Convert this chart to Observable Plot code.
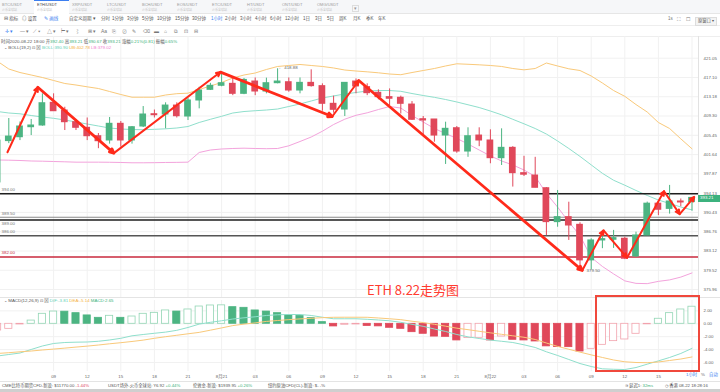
<!DOCTYPE html>
<html><head><meta charset="utf-8">
<script src="https://cdn.jsdelivr.net/npm/d3@7"></script>
<script src="https://cdn.jsdelivr.net/npm/@observablehq/plot@0.6"></script>
<style>
html,body{margin:0;padding:0;background:#fff;}
body{width:720px;height:392px;overflow:hidden;position:relative;font-family:"Liberation Sans","Noto Sans CJK SC",sans-serif;}
.a{position:absolute;white-space:nowrap;line-height:1;}
.wrap{position:absolute;left:0;}
</style></head><body>
<div class="a" style="left:0;top:0;width:720px;height:13px;background:#f6f7f9;border-bottom:1px solid #e6e6e6;"></div>
<div class="a" style="left:34px;top:0;width:35px;height:14px;background:#fff;border-top:1px solid #3d7ff0;box-sizing:border-box;"></div>
<div class="a" style="left:0;top:25px;width:720px;height:0;border-top:1px solid #eee;"></div>
<div class="a" style="left:0;top:36px;width:720px;height:0;border-top:1px solid #eee;"></div>
<div id="main" class="wrap" style="top:36px"></div>
<div id="macd" class="wrap" style="top:297px"></div>
<div class="a" style="left:0;top:297px;width:720px;height:0;border-top:1px solid #e4e4e4;"></div>
<div class="a" style="left:0;top:381px;width:720px;height:0;border-top:1px solid #e4e4e4;"></div>
<div class="a" style="left:0;top:389px;width:720px;height:3px;background:#cfcfcf;"></div>
<script>
// ---------- data ----------
const pairs = ["BTC/USDT","ETH/USDT","XRP/USDT","LTC/USDT","BCH/USDT","EOS/USDT","ETC/USDT","HT/USDT","ONT/USDT","OMG/USDT"];
const periods = ["分时","1分钟","3分钟","5分钟","10分钟","15分钟","30分钟","1小时","2小时","3小时","4小时","6小时","12小时","1日","3日","5日","周K","月K","季K","年K"];
// hourly candles, 2020-08-20 04:00 ... 2020-08-22 18:00 (index -1 .. 61)
const open = [396.2,404.3,405.07,407.06,407.4,411.95,410.4,408.06,406.94,405.27,
  404.42,407.74,404.42,407.2,409.66,409.6,411.4,409.2,412.42,414.58,
  415.4,415.8,413.77,416.27,414.24,415.93,416.13,414.44,416.0,415.33,
  411.75,410.6,416.27,415.13,413.98,413.1,412.97,411.6,408.66,408.6,
  405.4,406.86,402.24,405.4,404.42,400.93,402.97,398.0,397.54,395.08,
  388.57,389.52,388.06,381.36,385.1,385.23,385.42,382.1,386.04,392.1,
  391.1,392.52,392.40];
const high = [404.6,408.8,408.1,408.6,413.77,413.77,411.06,408.6,408.9,405.8,
  409.0,408.2,407.2,411.2,410.5,411.95,411.95,412.9,415.1,415.9,
  418.2,417.0,416.9,417.0,416.96,418.88,417.0,417.0,418.66,415.8,
  413.3,416.0,416.8,415.8,414.58,414.77,413.3,412.2,409.2,408.6,
  408.06,407.2,406.94,406.94,406.54,406.74,403.2,401.3,401.1,395.2,
  394.64,392.38,388.45,385.42,386.99,387.0,385.7,386.66,392.4,392.4,
  395.62,393.0,393.21];
const low = [395.8,403.8,404.4,405.4,407.26,410.2,406.4,406.4,404.4,402.8,
  403.7,403.1,403.7,407.0,408.9,406.74,408.9,408.4,410.74,414.44,
  415.2,413.4,413.6,413.4,413.77,415.8,414.1,413.77,415.13,410.26,
  409.86,409.2,413.77,413.4,412.56,411.4,409.7,408.4,405.4,404.08,
  399.7,401.9,401.1,403.2,399.84,399.5,395.3,397.35,395.16,386.0,
  387.6,385.1,379.5,379.6,383.55,383.6,381.5,381.9,386.0,389.8,
  390.1,391.5,390.67];
const close = [404.4,405.2,407.2,407.4,411.87,410.26,408.06,406.94,405.27,404.28,
  407.74,404.42,407.06,409.6,409.46,411.4,409.26,412.42,414.44,415.4,
  415.93,413.77,416.6,414.24,415.93,416.27,414.44,416.0,415.33,411.75,
  410.54,416.0,415.26,413.9,413.1,412.77,411.75,408.54,408.4,405.4,
  406.74,402.24,405.27,404.42,400.93,402.97,398.0,397.7,395.16,388.57,
  389.52,387.93,381.36,385.1,385.35,385.54,381.67,386.04,392.1,390.93,
  392.52,392.33,393.21];
const ub = [420.4,418.83,418.11,417.6,417.09,416.48,415.87,415.56,415.19,414.85,
  414.24,413.63,413.08,413.08,413.08,413.53,413.8,413.9,414.65,415.36,
  416.07,416.99,417.6,418.01,418.73,419.35,419.55,419.76,419.55,419.35,
  419.04,418.62,418.42,418.25,418.05,417.8,417.66,418.11,418.52,418.93,
  419.45,419.9,419.8,419.69,419.55,419.35,418.93,418.66,418.93,420.06,
  419.45,418.87,418.52,417.4,415.97,414.44,413.26,411.6,410.1,408.0,
  406.8,404.75,402.78];
const boll = [410.2,409.9,409.74,409.4,409.1,408.84,408.5,408.1,407.7,407.3,
  406.9,406.7,406.6,406.56,406.64,406.74,406.9,407.2,408.0,408.64,
  409.24,409.9,410.2,410.36,410.5,410.7,411.21,411.72,412.32,412.93,
  413.34,413.74,414.04,414.34,414.44,414.44,414.28,413.83,413.43,413.06,
  412.62,412.12,411.56,411.0,410.3,409.54,408.64,407.74,406.8,405.7,
  404.32,402.84,401.28,399.62,397.97,396.62,395.66,394.64,393.68,392.8,
  392.13,391.46,390.90];
const lb = [400.58,400.54,400.48,400.38,400.34,400.28,400.22,400.15,400.15,400.15,
  400.13,400.09,400.03,400.03,400.05,400.09,400.11,400.15,402.05,402.54,
  402.74,402.84,402.9,402.84,402.8,402.84,403.37,404.22,405.11,406.26,
  407.6,408.66,409.44,409.94,410.6,411.21,410.9,409.4,408.1,406.8,
  405.8,404.82,403.73,402.54,401.38,400.38,399.6,398.62,397.36,394.06,
  391.44,388.6,386.04,381.92,380.23,378.84,377.55,377.09,377.04,377.46,
  377.73,378.25,379.02];
const dif = [-4.99,-4.76,-4.53,-3.98,-3.44,-3.05,-2.9,-2.85,-2.82,-2.71,
  -2.51,-2.25,-1.86,-1.66,-1.47,-1.29,-1.01,-0.57,-0.05,0.23,
  0.47,0.74,0.93,1.09,1.29,1.4,1.44,1.44,1.29,1.02,
  0.78,0.78,0.78,0.7,0.59,0.47,0.23,-0.08,-0.39,-0.81,
  -1.19,-1.66,-2.02,-2.28,-2.53,-2.71,-2.9,-3.26,-3.67,-4.34,
  -4.91,-5.53,-6.16,-6.62,-6.98,-7.05,-7.09,-6.78,-6.26,-5.75,
  -5.22,-4.6,-3.81];
const dea = [-4.6,-4.48,-4.34,-4.22,-4.06,-3.92,-3.77,-3.61,-3.46,-3.29,
  -3.1,-2.93,-2.74,-2.53,-2.25,-2.0,-1.78,-1.55,-1.33,-0.99,
  -0.64,-0.28,-0.05,0.14,0.37,0.51,0.64,0.76,0.85,0.95,
  1.01,1.02,1.02,1.01,0.9,0.78,0.64,0.4,0.19,-0.08,
  -0.37,-0.68,-0.91,-1.16,-1.4,-1.63,-1.86,-2.09,-2.43,-2.98,
  -3.5,-3.95,-4.39,-4.82,-5.22,-5.61,-5.89,-6.0,-6.03,-5.92,
  -5.69,-5.46,-5.14];
const macd = [-1.04,-0.78,-0.1,0.5,1.55,1.9,1.88,1.65,1.3,0.93,
  1.24,0.93,1.13,1.55,1.7,2.07,1.9,2.22,2.68,2.84,
  2.86,2.58,2.48,2.07,1.9,1.65,1.3,1.2,0.88,0.26,
  -0.41,-0.15,-0.1,-0.33,-0.4,-0.62,-0.78,-1.3,-1.55,-1.98,
  -2.02,-2.58,-2.22,-2.17,-2.58,-1.97,-2.48,-2.58,-2.74,-3.5,
  -3.6,-3.62,-4.3,-3.88,-3.26,-2.69,-2.43,-1.55,-0.08,0.78,
  1.65,2.22,2.65];
const priceTicks = [421.05,417.10,413.18,409.30,405.45,401.64,397.87,394.13,390.43,386.76,383.12,379.52,375.96];
const macdTicks = [2,0,-2,-4,-6];
const timeTickIdx = [4,7,10,13,16,19,22,25,28,31,34,37,40,43,46,49,52,55,58];
const timeTickLabels = ["09","12","15","18","21","8月21","03","06","09","12","15","18","21","8月22","03","06","09","12","15"];
const levels = [394.00,389.50,389.00,386.00,382.00];
const trendT = [-0.12,2.59,9.38,18.9,28.88,31.25,51.2,53.1,55.2,58.5,59.9,61.2];
const trendP = [402.1,415.11,401.92,418.2,409.2,416.48,379.49,386.99,381.86,394.5,390.1,393.4];
const lastPrice = 393.21, maxHigh = 418.88, minLow = 379.50;

// ---------- styles ----------
const G="#4cb482", R="#e0485a", GL="#92d5b4", RL="#f2a2ad";
const UBC="#f9c97a", MIDC="#8fdfcc", LBC="#f3a3dc";
const XD=[-0.741,61.58];
const gridIdx = timeTickIdx.concat([61]);
const levelStroke = ["#1e1e1e","#8a8a8a","#1e1e1e","#555","#c8283c"];
const levelDy = [-4,-4,3.6,-4,-4];
const FONT = "Liberation Sans, Noto Sans CJK SC, sans-serif";

const candles = open.map((o,k)=>({t:k-1,o,h:high[k],l:low[k],c:close[k]}));
const col = d => d.c>=d.o ? G : R;
const series = arr => arr.map((v,k)=>({t:k-1,v}));
const segs = d3.range(trendT.length-1).map(k=>({x1:trendT[k],y1:trendP[k],x2:trendT[k+1],y2:trendP[k+1],w:(k===1||k===3||k===5)?2.8:2}));

const main = Plot.plot({
  width:720,height:261,marginLeft:0,marginRight:22,marginTop:0,marginBottom:0,
  style:{fontSize:"4.4px",fontFamily:FONT,color:"#666",background:"transparent"},
  x:{type:"linear",domain:XD,axis:null,label:null},
  y:{type:"log",domain:[374.49,425.55],label:null},
  marks:[
    Plot.gridY(priceTicks,{stroke:"#f1f1f1",strokeOpacity:1}),
    Plot.gridX(gridIdx,{stroke:"#f1f1f1",strokeOpacity:1}),
    Plot.ruleX([XD[1]],{stroke:"#e2e2e2"}),
    Plot.axisY(priceTicks,{anchor:"right",label:null,tickSize:0,tickPadding:5,tickFormat:d=>d.toFixed(2),fill:"#666"}),
    Plot.line(series(ub),{x:"t",y:"v",stroke:UBC,strokeWidth:1}),
    Plot.line(series(boll),{x:"t",y:"v",stroke:MIDC,strokeWidth:1}),
    Plot.line(series(lb),{x:"t",y:"v",stroke:LBC,strokeWidth:1}),
    ...levels.map((v,i)=>Plot.ruleY([v],{stroke:levelStroke[i],strokeWidth:i===1?1.2:1.5})),
    ...levels.map((v,i)=>Plot.text([v],{x:()=>XD[0],y:d=>d,text:d=>d.toFixed(2),textAnchor:"start",dx:1,dy:levelDy[i],fill:i===4?"#c8283c":"#777",fontSize:4.4})),
    Plot.ruleX(candles,{x:"t",y1:"l",y2:"h",stroke:col,strokeWidth:1}),
    Plot.rect(candles,{x1:d=>d.t-0.3,x2:d=>d.t+0.3,y1:"o",y2:"c",fill:col,insetTop:-0.5,insetBottom:-0.5}),
    Plot.text([maxHigh],{x:()=>24,y:d=>d,text:d=>"← "+d.toFixed(2),textAnchor:"start",dx:1,dy:-1,fill:"#666",fontSize:4.4}),
    Plot.text([minLow],{x:()=>51,y:d=>d,text:d=>"← "+d.toFixed(2),textAnchor:"start",dx:1,dy:0,fill:"#666",fontSize:4.4}),
    Plot.arrow(segs,{x1:"x1",y1:"y1",x2:"x2",y2:"y2",stroke:"#ff2a1a",strokeWidth:"w",headLength:7,headAngle:50})
  ]
});
document.getElementById("main").appendChild(main);

const bars = macd.map((v,k)=>{const hollow = k===0 || v>=macd[k-1];
  const c = v>=0 ? (hollow?GL:G) : (hollow?RL:R);
  return {t:k-1,v,fill:hollow?"#fff":c,stroke:c};});
const labelMap = new Map(timeTickIdx.map((d,i)=>[d,timeTickLabels[i]]));
const mp = Plot.plot({
  width:720,height:85,marginLeft:0,marginRight:22,marginTop:3,marginBottom:11,
  style:{fontSize:"4.4px",fontFamily:FONT,color:"#666",background:"transparent"},
  x:{type:"linear",domain:XD,label:null},
  y:{domain:[-7.395,3.612],label:null},
  marks:[
    Plot.gridY(macdTicks,{stroke:"#f1f1f1",strokeOpacity:1}),
    Plot.gridX(gridIdx,{stroke:"#f1f1f1",strokeOpacity:1}),
    Plot.ruleX([XD[1]],{stroke:"#e2e2e2"}),
    Plot.axisY(macdTicks,{anchor:"right",label:null,tickSize:0,tickPadding:5,tickFormat:d=>d.toFixed(2),fill:"#666"}),
    Plot.axisX(timeTickIdx,{anchor:"bottom",label:null,tickSize:0,tickPadding:3,tickFormat:d=>labelMap.get(d),fill:"#666"}),
    Plot.rect(bars,{x1:d=>d.t-0.32,x2:d=>d.t+0.32,y1:()=>0,y2:"v",fill:d=>d.fill,stroke:d=>d.stroke,strokeWidth:0.8}),
    Plot.line(series(dif),{x:"t",y:"v",stroke:MIDC,strokeWidth:1}),
    Plot.line(series(dea),{x:"t",y:"v",stroke:UBC,strokeWidth:1})
  ]
});
document.getElementById("macd").appendChild(mp);

// ---------- html text ----------
function put(html,x,yc,size,css=""){
  const s=document.createElement("div"); s.className="a";
  s.style.cssText=`left:${x}px;top:${yc-size/2}px;font-size:${size}px;height:${size}px;${css}`;
  s.innerHTML=html; document.body.appendChild(s); return s;
}
pairs.forEach((p,k)=>{
  const x=2+k*35;
  put(p,x,5,4,`color:${k===1?"#444":"#9a9a9a"};`);
  put("火币全球站",x,10,3,"color:#c4c4c4;");
});
put("▾",352,7,5,"color:#999;border:1px solid #ddd;padding:0 1px;");
put("⊟ 指标",4,19.5,4.5,"color:#555;");
put("◎ 设置",22,19.5,4.5,"color:#555;");
put("✎ 画线",44,19.5,4.5,"color:#3d7ff0;");
put("自定义周期 ▾",69,19.5,4.5,"color:#555;");
const px=[101,112,127,142,157,175,192,211,225,240,255,270,285,303,315,327,339,353,366,378];
periods.forEach((p,k)=>put(p,px[k],19.5,4.5,`color:${p==="1小时"?"#3d7ff0":"#555"};`));
put("1s",668,19.5,4.5,"color:#777;");
put("⛶",677,19.5,5,"color:#777;");
put("☐",686,19.5,5,"color:#777;");
put("原窗口 ▾",695,19.5,4.3,"color:#555;background:#f3f3f3;border:1px solid #ddd;padding:1px 2px;height:auto;");
const icons=["✛ ▾","— ▾","⟋ ▾","△ ▾","⊢ ▾","⌇","⊞ ▾","Aa","⎘","⊘","✎","⌫","▬","⌂","⧉","⊡","⊟"];
const ix=[5,20,33,47,61,75,88,101,112,122,132,143,154,164,174,184,194];
icons.forEach((c,k)=>put(c,ix[k],31.5,5,`color:${k===0?"#3d7ff0":"#777"};`));
const g=v=>`<span style="color:#3bb27a">${v}</span>`;
put(`时间2020-08-22 18:00 开${g("392.40")} 高${g("393.21")} 低${g("390.67")} 收${g("393.21")} 涨幅${g("0.21%(0.81)")} 振幅${g("0.65%")}`,1,42.3,4.4,"color:#555;");
put(`⌄ BOLL(19,2) ⊡ ⊠ <span style="color:#5fd0b6">BOLL:390.90</span> <span style="color:#f5b13d">UB:402.78</span> <span style="color:#ef7fd0">LB:379.02</span>`,4,48.5,4.4,"color:#555;");
put(`⌄ MACD(12,26,9) ⊡ ⊠ <span style="color:#5fd0b6">DIF:-3.81</span> <span style="color:#f5b13d">DEA:-5.14</span> <span style="color:#3bb27a">MACD:2.65</span>`,4,301,4.4,"color:#555;");
// current price tag
const yS = main.scale("y");
put("393.21",698,36+yS.apply(lastPrice),4.4,"color:#fff;background:#3cb27e;padding:1.3px 0 1.3px 2px;box-sizing:content-box;width:20px;");
// bottom right selectors
put("1小时",686,375.5,4.4,"color:#3d7ff0;");
put("%",701,375.5,4.4,"color:#666;");
put("自动",709,375.5,4.4,"color:#3d7ff0;");
// status bar
put(`CME比特币期货CFD-新浪: $11770.00 <span style="color:#e0485a">-1.44%</span>`,2,386,4.3,"color:#555;");
put(`USDT场外-火币全球站: ¥6.92 <span style="color:#3bb27a">+0.44%</span>`,108,386,4.3,"color:#555;");
put(`伦敦金-新浪: $1939.95 <span style="color:#3bb27a">+0.26%</span>`,193,386,4.3,"color:#555;");
put(`纽约原油CFD(CL)-新浪: $- -%`,268,386,4.3,"color:#555;");
put(`≋ 延迟1: <span style="color:#3bb27a">32ms</span>`,625,386,4.3,"color:#555;");
put(`◷ 香港 08-22 18:28:16`,665,386,4.3,"color:#555;");
// annotations
put("ETH 8.22走势图",367,289,13,"color:#ff3b30;font-family:'Noto Sans CJK SC',sans-serif;");
const box=document.createElement("div"); box.className="a";
box.style.cssText="left:595px;top:295px;width:105px;height:77px;border:2px solid #f0483c;box-sizing:border-box;";
document.body.appendChild(box);
</script></body></html>
